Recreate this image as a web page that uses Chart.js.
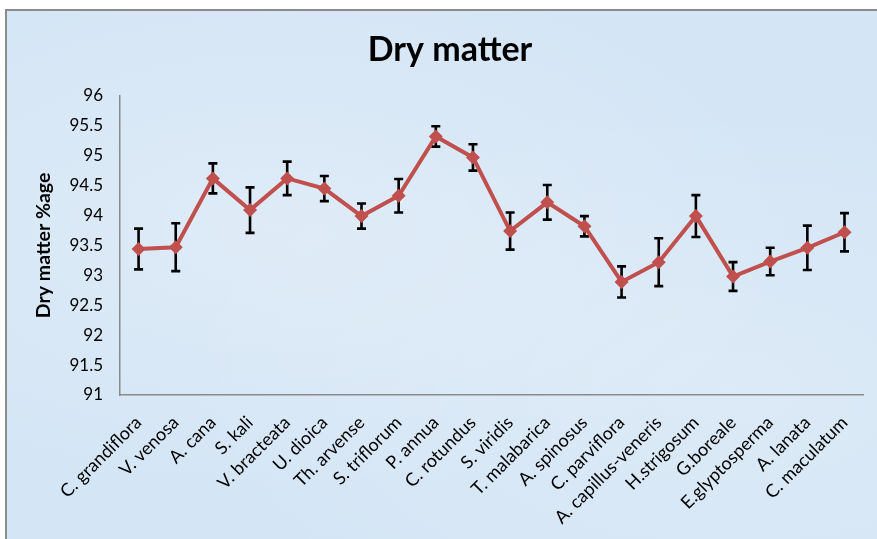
<!DOCTYPE html>
<html>
<head>
<meta charset="utf-8">
<script src="https://cdn.jsdelivr.net/npm/chart.js@4"></script>
<style>
  html, body { margin: 0; padding: 0; background: #ffffff; overflow: hidden; }
  #frame {
    position: absolute; left: 5px; top: 9px; width: 900px; height: 540px;
    border-top: 2px solid #8c8c8c; border-left: 2px solid #8c8c8c;
    background: #d4e5f5;
    background-image: radial-gradient(ellipse at 30% 40%, rgba(255,255,255,0.25), rgba(255,255,255,0) 60%),
                      radial-gradient(ellipse at 80% 70%, rgba(255,255,255,0.2), rgba(255,255,255,0) 55%);
  }
  #chart { position: absolute; left: 0; top: 0; }
</style>
</head>
<body>
<div id="frame"></div>
<canvas id="chart" width="877" height="539"></canvas>
<script>
// Species sampled
const species = [
  'C. grandiflora', 'V. venosa', 'A. cana', 'S. kali', 'V. bracteata',
  'U. dioica', 'Th. arvense', 'S. triflorum', 'P. annua', 'C. rotundus',
  'S. viridis', 'T. malabarica', 'A. spinosus', 'C. parviflora',
  'A. capillus-veneris', 'H.strigosum', 'G.boreale', 'E.glyptosperma',
  'A. lanata', 'C. maculatum'
];

// Mean dry matter (%)
const dryMatter = [
  93.44, 93.47, 94.62, 94.09, 94.62,
  94.45, 93.99, 94.33, 95.32, 94.97,
  93.74, 94.22, 93.82, 92.89,
  93.22, 93.99, 92.98, 93.23,
  93.46, 93.72
];

// Error (+/-) for each mean
const dryMatterErr = [
  0.34, 0.40, 0.25, 0.38, 0.28,
  0.21, 0.21, 0.28, 0.17, 0.22,
  0.31, 0.29, 0.17, 0.26,
  0.40, 0.35, 0.24, 0.23,
  0.37, 0.32
];

// Value axis ticks
const yTicks = [91, 91.5, 92, 92.5, 93, 93.5, 94, 94.5, 95, 95.5, 96];

const labelFont = "Lato, 'Open Sans', 'Liberation Sans', sans-serif";

// Vertical error bars with caps, drawn under the line and markers
const errorBars = {
  id: 'errorBars',
  beforeDatasetsDraw(chart) {
    const { ctx, scales: { x, y } } = chart;
    const meta = chart.getDatasetMeta(0);
    ctx.save();
    ctx.strokeStyle = '#000000';
    ctx.lineWidth = 2.6;
    ctx.lineCap = 'butt';
    meta.data.forEach((pt, i) => {
      const v = dryMatter[i], e = dryMatterErr[i];
      const px = x.getPixelForValue(i);
      const top = y.getPixelForValue(v + e);
      const bot = y.getPixelForValue(v - e);
      const cap = 4.5;
      ctx.beginPath();
      ctx.moveTo(px, top); ctx.lineTo(px, bot);
      ctx.moveTo(px - cap, top); ctx.lineTo(px + cap, top);
      ctx.moveTo(px - cap, bot); ctx.lineTo(px + cap, bot);
      ctx.stroke();
    });
    ctx.restore();
  }
};

new Chart(document.getElementById('chart'), {
  type: 'line',
  data: {
    labels: species,
    datasets: [{
      data: dryMatter,
      borderColor: '#c0504d',
      backgroundColor: '#c0504d',
      borderWidth: 4,
      pointStyle: 'rectRot',
      pointRadius: 7,
      pointHoverRadius: 7,
      pointBorderWidth: 0,
      tension: 0,
      fill: false
    }]
  },
  options: {
    responsive: false,
    animation: false,
    devicePixelRatio: 1,
    layout: { padding: { left: 32, right: 9, top: 0, bottom: 0 } },
    plugins: {
      legend: { display: false },
      tooltip: { enabled: false },
      title: {
        display: true,
        text: 'Dry matter',
        color: '#000000',
        font: { family: labelFont, size: 34, weight: 'bold', lineHeight: 1.2 },
        padding: { top: 30, bottom: 25 }
      }
    },
    scales: {
      x: {
        offset: true,
        grid: { display: false, drawTicks: false },
        border: { display: true, color: '#8a8a8a', width: 1.5 },
        ticks: {
          autoSkip: false,
          minRotation: 45,
          maxRotation: 45,
          padding: 17,
          color: '#000000',
          font: { family: labelFont, size: 18 }
        },
        afterFit(scale) { scale.height = 144; }
      },
      y: {
        min: 91,
        max: 96,
        afterBuildTicks(scale) { scale.ticks = yTicks.map(v => ({ value: v })); },
        grid: { display: false, drawTicks: false },
        border: { display: true, color: '#8a8a8a', width: 1.5 },
        ticks: {
          padding: 17,
          color: '#000000',
          font: { family: labelFont, size: 17 },
          callback: (v) => String(v)
        },
        title: {
          display: true,
          text: 'Dry matter %age',
          color: '#000000',
          font: { family: labelFont, size: 19.5, weight: 'bold' },
          padding: 0
        },
        afterFit(scale) { scale.width = 88; }
      }
    }
  },
  plugins: [errorBars]
});
</script>
</body>
</html>
